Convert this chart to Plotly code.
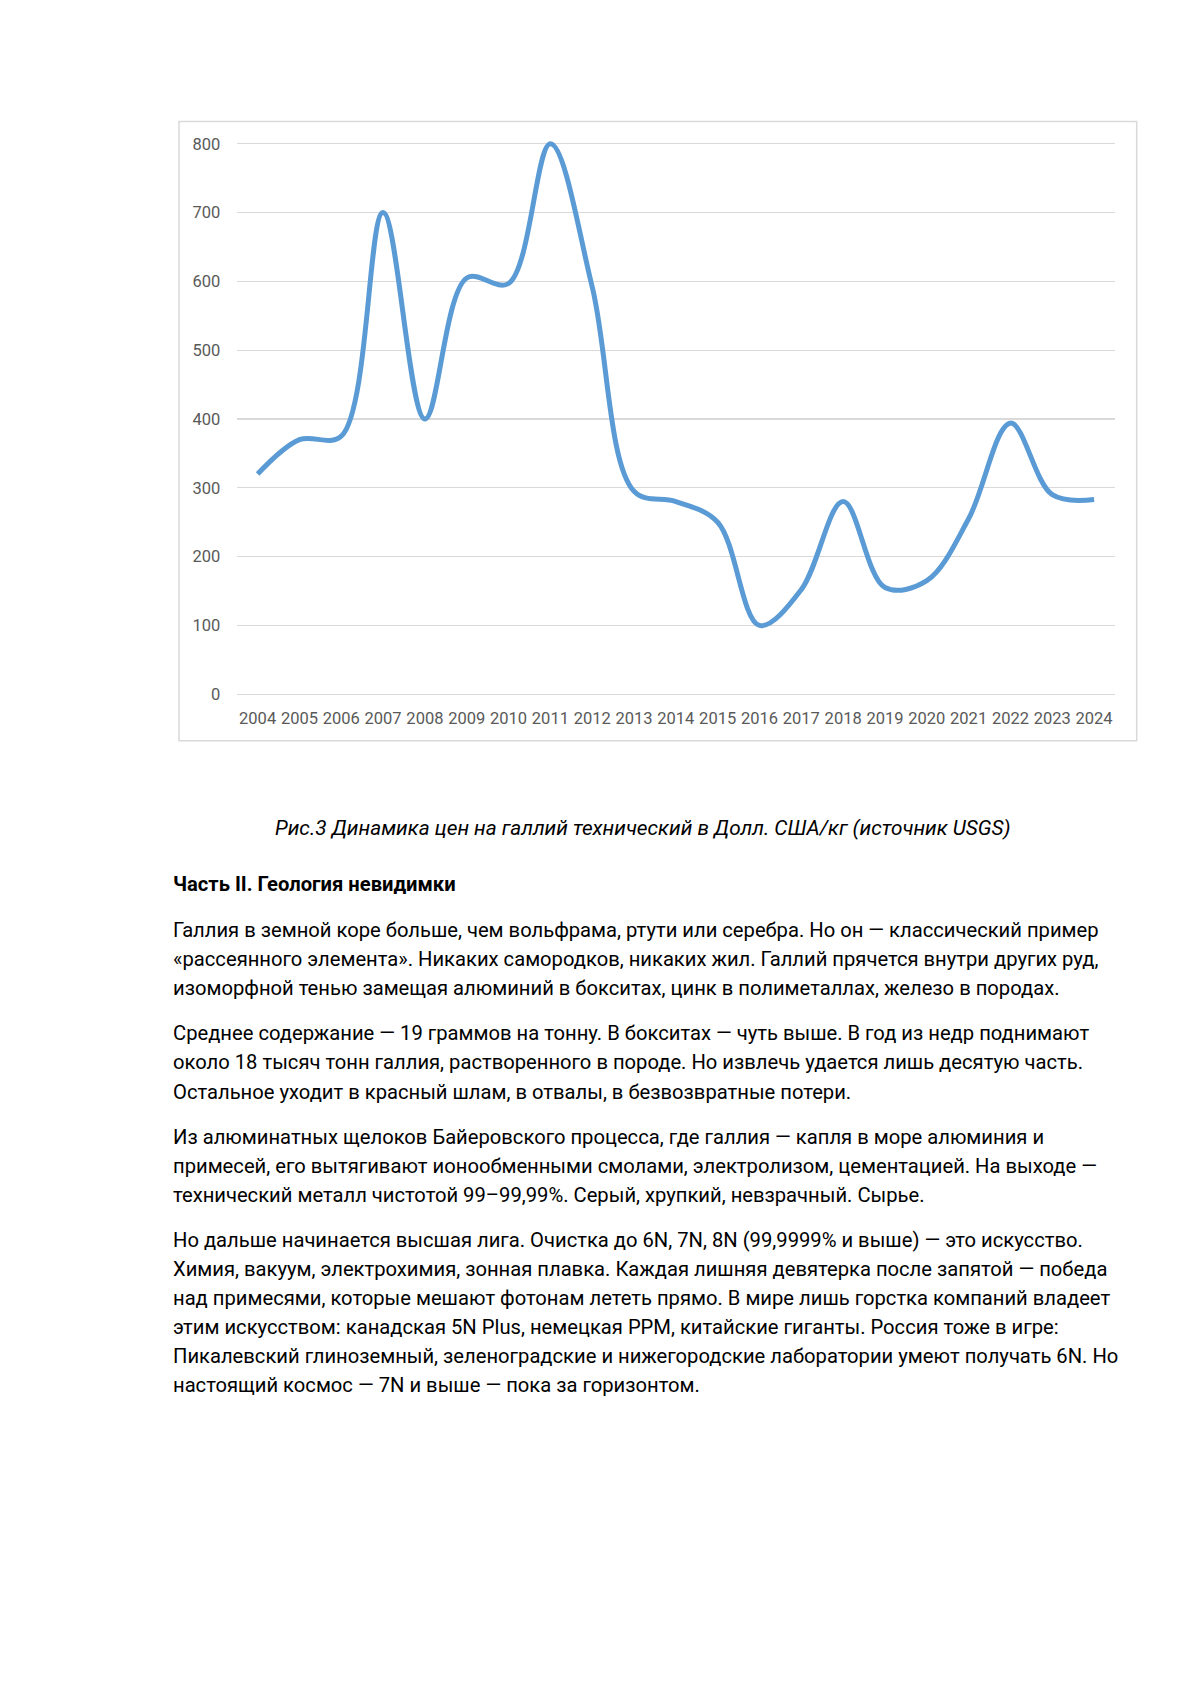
import plotly.graph_objects as go

# ---- data ----
years = [str(y) for y in range(2004, 2025)]
prices = [320, 370, 375, 700, 400, 605, 597, 800, 592, 295, 280, 250,
          100, 152, 280, 155, 165, 255, 394, 290, 283]
y_ticks = [0, 100, 200, 300, 400, 500, 600, 700, 800]
y_tick_labels = [str(v) for v in y_ticks]

caption = "Рис.3 Динамика цен на галлий технический в Долл. США/кг (источник USGS)"
heading = "Часть II. Геология невидимки"
paragraphs = [
    ["Галлия в земной коре больше, чем вольфрама, ртути или серебра. Но он — классический пример",
     "«рассеянного элемента». Никаких самородков, никаких жил. Галлий прячется внутри других руд,",
     "изоморфной тенью замещая алюминий в бокситах, цинк в полиметаллах, железо в породах."],
    ["Среднее содержание — 19 граммов на тонну. В бокситах — чуть выше. В год из недр поднимают",
     "около 18 тысяч тонн галлия, растворенного в породе. Но извлечь удается лишь десятую часть.",
     "Остальное уходит в красный шлам, в отвалы, в безвозвратные потери."],
    ["Из алюминатных щелоков Байеровского процесса, где галлия — капля в море алюминия и",
     "примесей, его вытягивают ионообменными смолами, электролизом, цементацией. На выходе —",
     "технический металл чистотой 99–99,99%. Серый, хрупкий, невзрачный. Сырье."],
    ["Но дальше начинается высшая лига. Очистка до 6N, 7N, 8N (99,9999% и выше) — это искусство.",
     "Химия, вакуум, электрохимия, зонная плавка. Каждая лишняя девятерка после запятой — победа",
     "над примесями, которые мешают фотонам лететь прямо. В мире лишь горстка компаний владеет",
     "этим искусством: канадская 5N Plus, немецкая PPM, китайские гиганты. Россия тоже в игре:",
     "Пикалевский глиноземный, зеленоградские и нижегородские лаборатории умеют получать 6N. Но",
     "настоящий космос — 7N и выше — пока за горизонтом."],
]

# ---- page geometry (pixels) ----
W, H = 1200, 1697
def px(x):
    return x / W
def py(y):
    return 1 - y / H

plot_left, plot_right = 236.7, 1115.0
y0_px, y800_px = 695.0, 144.0
ppu = (y0_px - y800_px) / 800.0
ymin, ymax = -12, 815
bottom_px = y0_px - ymin * ppu
top_px = y800_px - (ymax - 800) * ppu

fig = go.Figure()
fig.add_trace(go.Scatter(
    x=years, y=prices, mode="lines",
    line=dict(color="#5B9BD5", width=5, shape="spline", smoothing=1.0),
    hoverinfo="skip", showlegend=False,
))

tick_font = dict(family="Roboto, 'Open Sans', sans-serif", size=16.5, color="#595959")
fig.update_layout(
    width=W, height=H,
    margin=dict(l=0, r=0, t=0, b=0),
    paper_bgcolor="white", plot_bgcolor="white",
    hovermode=False,
    xaxis=dict(
        domain=[px(plot_left), px(plot_right)],
        type="category", range=[-0.5, len(years) - 0.5],
        showgrid=False, zeroline=False, showline=False,
        ticks="outside", ticklen=1, tickcolor="rgba(0,0,0,0)",
        tickfont=tick_font, fixedrange=True,
    ),
    yaxis=dict(
        domain=[py(bottom_px), py(top_px)],
        range=[ymin, ymax],
        tickvals=y_ticks, ticktext=y_tick_labels,
        showgrid=True, gridcolor="#D9D9D9", gridwidth=1.3,
        zeroline=False, showline=False,
        ticks="outside", ticklen=12, tickcolor="rgba(0,0,0,0)",
        tickfont=tick_font, fixedrange=True,
    ),
)

# chart frame
fig.add_shape(type="rect", xref="paper", yref="paper",
              x0=px(179), x1=px(1136.7), y0=py(741.7), y1=py(121.7),
              line=dict(color="#D9D9D9", width=1.5), layer="below")

body_font = dict(family="Roboto, 'Open Sans', sans-serif", size=20.2, color="#000000")
caption_font = dict(family="Roboto, 'Open Sans', sans-serif", size=20.8, color="#000000")

fig.add_annotation(x=px(643), y=py(829), xref="paper", yref="paper",
                   text="<i>" + caption + "</i>", showarrow=False,
                   xanchor="center", yanchor="middle", font=caption_font)
fig.add_annotation(x=px(171), y=py(885), xref="paper", yref="paper",
                   text="<b>" + heading + "</b>", showarrow=False,
                   xanchor="left", yanchor="middle", font=body_font)

para_starts = [930.6, 1034.5, 1138.4, 1241.0]
line_pitch = 29.2
for start, lines in zip(para_starts, paragraphs):
    for i, line in enumerate(lines):
        fig.add_annotation(x=px(171), y=py(start + i * line_pitch),
                           xref="paper", yref="paper", text=line,
                           showarrow=False, xanchor="left", yanchor="middle",
                           font=body_font)

fig.write_html(
    "out.html",
    config={"displayModeBar": False, "staticPlot": True},
    post_script="document.body.style.margin='0';document.body.style.overflow='hidden';",
)
